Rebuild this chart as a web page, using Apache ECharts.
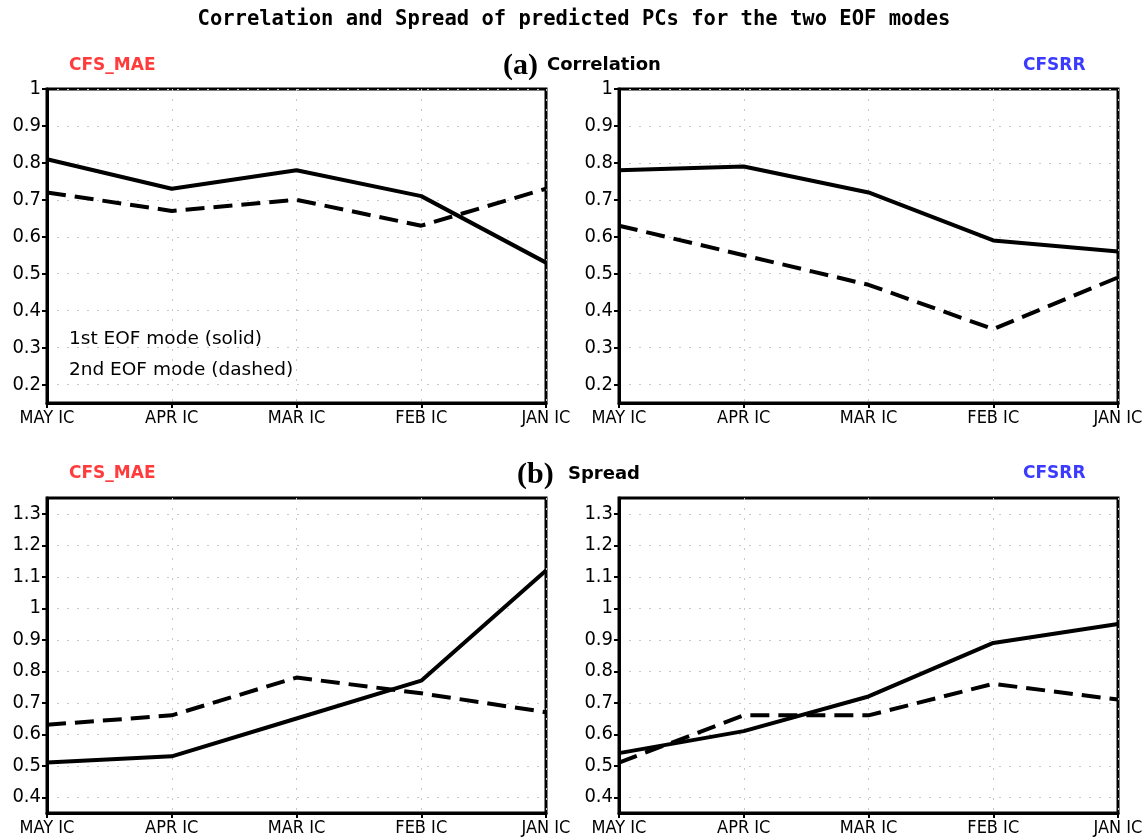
<!DOCTYPE html>
<html>
<head>
<meta charset="utf-8">
<script src="https://cdn.jsdelivr.net/npm/echarts@6/dist/echarts.min.js"></script>
<style>
html,body{margin:0;padding:0;background:#fff;}
#chart{width:1148px;height:840px;}
</style>
</head>
<body>
<div id="chart"></div>
<script>
const categories = ['MAY IC', 'APR IC', 'MAR IC', 'FEB IC', 'JAN IC'];

const corrMaeSolid  = [0.81, 0.73, 0.78, 0.71, 0.53];
const corrMaeDashed = [0.72, 0.67, 0.70, 0.63, 0.73];
const corrRRSolid   = [0.78, 0.79, 0.72, 0.59, 0.56];
const corrRRDashed  = [0.63, 0.55, 0.47, 0.35, 0.49];

const sprMaeSolid   = [0.51, 0.53, 0.65, 0.77, 1.12];
const sprMaeDashed  = [0.63, 0.66, 0.78, 0.73, 0.67];
const sprRRSolid    = [0.54, 0.61, 0.72, 0.89, 0.95];
const sprRRDashed   = [0.51, 0.66, 0.66, 0.76, 0.71];

const corrTicks = [0.2, 0.3, 0.4, 0.5, 0.6, 0.7, 0.8, 0.9, 1];
const sprTicks  = [0.4, 0.5, 0.6, 0.7, 0.8, 0.9, 1, 1.1, 1.2, 1.3];

const grids = [
  {left: 47,  top: 89,  width: 499, height: 314},
  {left: 619, top: 89,  width: 499, height: 314},
  {left: 47,  top: 498, width: 499, height: 315},
  {left: 619, top: 498, width: 499, height: 315}
];

const labelFont = '"Liberation Sans Narrow", "DejaVu Sans Condensed", "Liberation Sans", sans-serif';

function xAx(i) {
  return {
    type: 'category', gridIndex: i, data: categories, boundaryGap: false,
    axisLine: {show: true, lineStyle: {color: '#000', width: 3}},
    axisTick: {show: true, length: 5, inside: false, lineStyle: {color: '#000', width: 2}},
    axisLabel: {color: '#000', fontSize: 18, fontFamily: labelFont, margin: 6,
                showMinLabel: true, showMaxLabel: true, hideOverlap: false, interval: 0},
    splitLine: {show: true, lineStyle: {color: '#c8c8c8', type: [2, 8], width: 1}}
  };
}
function yAx(i, min, max, ticks) {
  return {
    type: 'value', gridIndex: i, min: min, max: max,
    axisLine: {show: true, lineStyle: {color: '#000', width: 3}},
    axisTick: {show: true, length: 5, customValues: ticks, lineStyle: {color: '#000', width: 2}},
    axisLabel: {color: '#000', fontSize: 20, fontFamily: labelFont, margin: 6,
                customValues: ticks, formatter: v => String(Math.round(v * 10) / 10)},
    splitLine: {show: true, lineStyle: {color: '#c8c8c8', type: [2, 8], width: 1}}
  };
}
function ser(i, data, dashed) {
  return {
    type: 'line', xAxisIndex: i, yAxisIndex: i, data: data, symbol: 'none',
    lineStyle: {color: '#000', width: 4, type: dashed ? [19, 9] : 'solid', cap: 'butt'},
    animation: false, z: 3
  };
}

const txt = (x, y, s, font, color, align) => ({
  type: 'text', x: x, y: y,
  style: {text: s, font: font, fill: color || '#000', textAlign: align || 'left', textVerticalAlign: 'middle'}
});

const chart = echarts.init(document.getElementById('chart'));
chart.setOption({
  backgroundColor: '#fff',
  animation: false,
  grid: grids.map(g => Object.assign({show: true, borderColor: '#000', borderWidth: 3, backgroundColor: 'transparent'}, g)),
  xAxis: [0, 1, 2, 3].map(xAx),
  yAxis: [
    yAx(0, 0.15, 1, corrTicks),
    yAx(1, 0.15, 1, corrTicks),
    yAx(2, 0.35, 1.35, sprTicks),
    yAx(3, 0.35, 1.35, sprTicks)
  ],
  series: [
    ser(0, corrMaeSolid, false), ser(0, corrMaeDashed, true),
    ser(1, corrRRSolid, false),  ser(1, corrRRDashed, true),
    ser(2, sprMaeSolid, false),  ser(2, sprMaeDashed, true),
    ser(3, sprRRSolid, false),   ser(3, sprRRDashed, true)
  ],
  graphic: [
    txt(574, 20, 'Correlation and Spread of predicted PCs for the two EOF modes', 'bold 20.5px "DejaVu Sans Mono", monospace', '#000', 'center'),
    txt(69, 66, 'CFS_MAE', 'bold 17px "DejaVu Sans", sans-serif', '#ff3b3b'),
    txt(1023, 66, 'CFSRR', 'bold 17px "DejaVu Sans", sans-serif', '#3b3bff'),
    txt(503, 66, '(a)', 'bold 30px "Liberation Serif", "DejaVu Serif", serif', '#000'),
    txt(547, 65, 'Correlation', 'bold 18px "DejaVu Sans", sans-serif', '#000'),
    txt(69, 474, 'CFS_MAE', 'bold 17px "DejaVu Sans", sans-serif', '#ff3b3b'),
    txt(1023, 474, 'CFSRR', 'bold 17px "DejaVu Sans", sans-serif', '#3b3bff'),
    txt(517, 475, '(b)', 'bold 30px "Liberation Serif", "DejaVu Serif", serif', '#000'),
    txt(568, 474, 'Spread', 'bold 18px "DejaVu Sans", sans-serif', '#000'),
    txt(69, 339, '1st EOF mode (solid)', '18.5px "DejaVu Sans", sans-serif', '#000'),
    txt(69, 370, '2nd EOF mode (dashed)', '18.5px "DejaVu Sans", sans-serif', '#000')
  ]
});
</script>
</body>
</html>
